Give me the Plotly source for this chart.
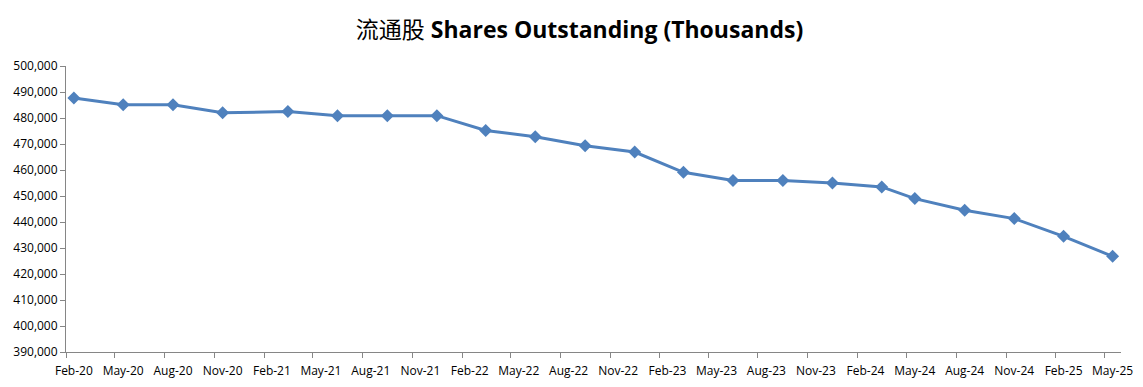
import plotly.graph_objects as go
import pandas as pd

# Data (quarterly shares outstanding, thousands)
months = ["2020-02", "2020-05", "2020-08", "2020-11",
          "2021-03", "2021-06", "2021-09", "2021-12",
          "2022-03", "2022-06", "2022-09", "2022-12",
          "2023-03", "2023-06", "2023-09", "2023-12",
          "2024-03", "2024-05", "2024-08", "2024-11",
          "2025-02", "2025-05"]
shares = [487700, 485100, 485100, 482000,
          482500, 480900, 480900, 480900,
          475200, 472800, 469300, 466900,
          459100, 456000, 456000, 455000,
          453500, 449000, 444500, 441300,
          434500, 426800]

tick_months = ["2020-02", "2020-05", "2020-08", "2020-11",
               "2021-02", "2021-05", "2021-08", "2021-11",
               "2022-02", "2022-05", "2022-08", "2022-11",
               "2023-02", "2023-05", "2023-08", "2023-11",
               "2024-02", "2024-05", "2024-08", "2024-11",
               "2025-02", "2025-05"]
tick_labels = ["Feb-20", "May-20", "Aug-20", "Nov-20",
               "Feb-21", "May-21", "Aug-21", "Nov-21",
               "Feb-22", "May-22", "Aug-22", "Nov-22",
               "Feb-23", "May-23", "Aug-23", "Nov-23",
               "Feb-24", "May-24", "Aug-24", "Nov-24",
               "Feb-25", "May-25"]

def mid_month(m):
    start = pd.Timestamp(m + "-01")
    end = start + pd.offsets.MonthBegin(1)
    return (start + (end - start) / 2).strftime("%Y-%m-%d %H:%M")

tick_vals = [mid_month(m) for m in tick_months]

color = "#4F81BD"

fig = go.Figure()
fig.add_trace(go.Scatter(
    x=months, y=shares,
    xperiod="M1", xperiodalignment="middle",
    mode="lines+markers",
    line=dict(color=color, width=3),
    marker=dict(symbol="diamond", size=10, color=color),
    showlegend=False,
))

fig.update_layout(
    width=1143, height=387,
    margin=dict(l=58, r=30, t=58, b=43, autoexpand=False),
    paper_bgcolor="white", plot_bgcolor="white",
    title=dict(
        text="<span style='font-family:Noto Sans CJK SC;font-weight:normal'>流通股</span> <b>Shares Outstanding (Thousands)</b>",
        x=0.5, xanchor="center", y=0.943, yanchor="middle",
        font=dict(family="Open Sans", size=23, color="black"),
    ),
    font=dict(family="Open Sans", size=12, color="black"),
)

fig.update_xaxes(
    type="date",
    range=["2020-02-01", "2025-06-01"],
    tickmode="array", tickvals=tick_vals, ticktext=tick_labels,
    ticks="", showgrid=False, zeroline=False,
    showline=True, linecolor="#868686", linewidth=1,
    tickfont=dict(size=12, color="black"),
    ticklabelstandoff=8,
    minor=dict(ticks="outside", tick0="2020-02-01", dtick="M3",
               ticklen=5, tickcolor="#868686", showgrid=False),
)
fig.update_yaxes(
    range=[390000, 500000], dtick=10000, tick0=390000,
    tickformat=",", ticks="outside", ticklen=5, tickcolor="#868686",
    showgrid=False, zeroline=False,
    showline=True, linecolor="#868686", linewidth=1,
    tickfont=dict(size=12, color="black"),
)

fig.write_html("out.html")
